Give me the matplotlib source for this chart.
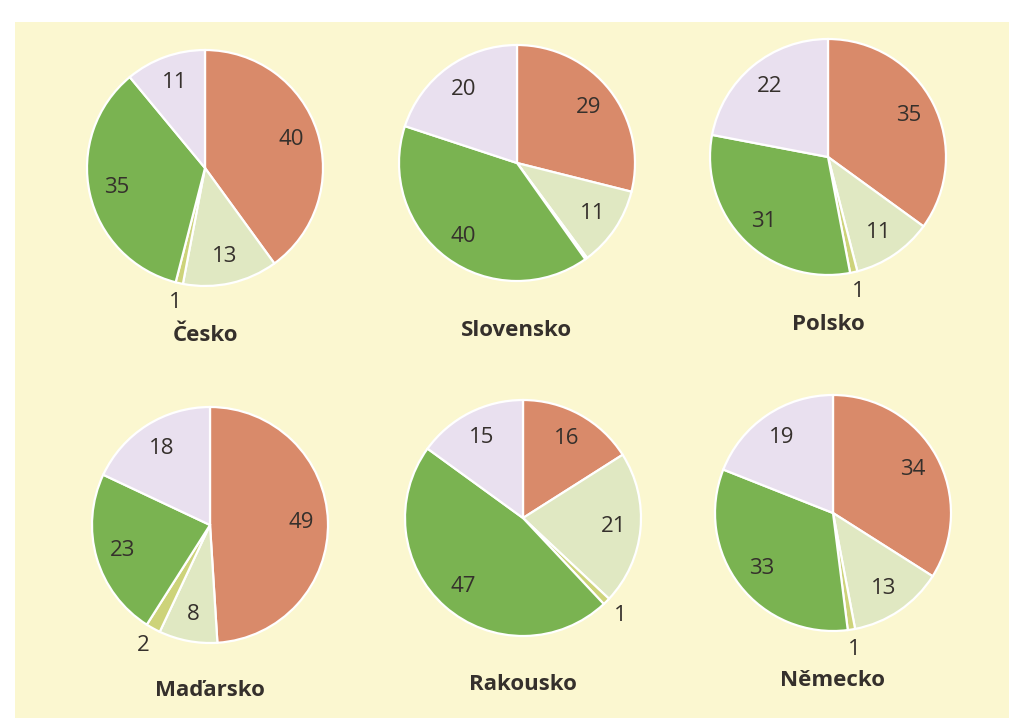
import matplotlib
matplotlib.use("Agg")
import matplotlib.pyplot as plt
from matplotlib.patches import Rectangle
import numpy as np

countries = ["Česko", "Slovensko", "Polsko", "Maďarsko", "Rakousko", "Německo"]
orange   = [40, 29, 35, 49, 16, 34]
light_gr = [13, 11, 11, 8, 21, 13]
yellow   = [1, 0.3, 1, 2, 1, 1]
green    = [35, 40, 31, 23, 47, 33]
lavender = [11, 20, 22, 18, 15, 19]
yellow_labels = ["1", "", "1", "2", "1", "1"]

colors = ["#d98a6a", "#e0e8c2", "#cdd37a", "#7ab351", "#e9e0ef"]
text_color = "#35302c"

W, H = 1009, 724
# pie centres and radius in pixels (layout)
centres = [(205, 168), (517, 163), (828, 157), (210, 525), (523, 518), (833, 513)]
R = 118
title_y = [335, 330, 325, 690, 685, 680]

plt.rcParams['font.family'] = ['Open Sans', 'DejaVu Sans']

fig = plt.figure(figsize=(W / 100, H / 100), dpi=100)
fig.patch.set_facecolor("white")
fig.patches.append(Rectangle((15 / W, 6 / H), 1 - 15 / W, (H - 22 - 6) / H,
                             transform=fig.transFigure, facecolor="#fbf7d0",
                             edgecolor="none", zorder=-10))

for i, name in enumerate(countries):
    cx, cy = centres[i]
    ax = fig.add_axes([(cx - R) / W, (H - cy - R) / H, 2 * R / W, 2 * R / H])
    ax.set_facecolor("none")
    ax.set_zorder(1)
    vals = [orange[i], light_gr[i], yellow[i], green[i], lavender[i]]
    labels = [str(orange[i]), str(light_gr[i]), yellow_labels[i],
              str(green[i]), str(lavender[i])]
    wedges, _ = ax.pie(vals, colors=colors, startangle=90, counterclock=False,
                       radius=1,
                       wedgeprops=dict(edgecolor="white", linewidth=1.6))
    for w, lab, v in zip(wedges, labels, vals):
        if not lab:
            continue
        ang = np.deg2rad((w.theta1 + w.theta2) / 2)
        d = 1.17 if v <= 2 else 0.77
        ax.text(d * np.cos(ang), d * np.sin(ang), lab, ha="center", va="center",
                fontsize=16, color=text_color)
    ax.set_xlim(-1.0, 1.0)
    ax.set_ylim(-1.0, 1.0)
    ax.axis("off")
    fig.text(cx / W, 1 - title_y[i] / H, name, ha="center", va="center",
             fontsize=16, fontweight="bold", color=text_color, zorder=2)

fig.savefig("out.png", dpi=100, facecolor=fig.get_facecolor())
